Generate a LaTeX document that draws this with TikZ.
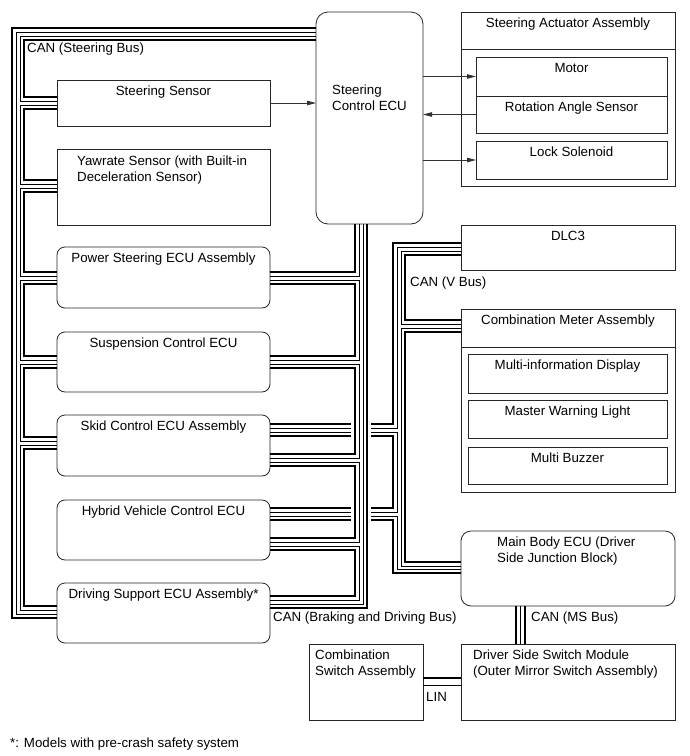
\documentclass[tikz,border=0pt]{standalone}
\usepackage{fontspec}
\setmainfont{Liberation Sans}
\usetikzlibrary{arrows.meta}

\tikzset{
  box/.style={draw=black!85, line width=0.8pt, inner sep=0pt, outer sep=0pt, anchor=north west},
  ecubox/.style={box, rounded corners=8pt},
  hi/.style={line width=2.4pt},
  lo/.style={line width=0.9pt},
  sig/.style={draw=black!80, line width=0.8pt, -{Triangle[length=9pt,width=4.5pt]}},
  title/.style={inner sep=0pt, anchor=north},
  lefttext/.style={inner sep=0pt, anchor=north west, align=left},
  note/.style={inner sep=0pt, anchor=north west}
}

\begin{document}
\begin{tikzpicture}[x=1pt, y=-1pt, font=\fontsize{13.3}{16}\selectfont]
    \useasboundingbox (0,0) rectangle (690,756);

    % Left column
    \node[box, minimum width=213pt, minimum height=46pt] (ss) at (57,80) {};
    \node[box, minimum width=213pt, minimum height=76pt] (yaw) at (57,149) {};
    \node[ecubox, minimum width=213pt, minimum height=61pt] (ps) at (57,247) {};
    \node[ecubox, minimum width=213pt, minimum height=60pt] (susp) at (57,332) {};
    \node[ecubox, minimum width=213pt, minimum height=61pt] (skid) at (57,415) {};
    \node[ecubox, minimum width=213pt, minimum height=60pt] (hv) at (57,500) {};
    \node[ecubox, minimum width=213pt, minimum height=60pt] (ds) at (57,583) {};
    \node[title] (ss-t) at ([yshift=-6pt]ss.north) {Steering Sensor};
    \node[lefttext] (yaw-t) at ([xshift=20pt,yshift=-7pt]yaw.north west) {Yawrate Sensor (with Built-in\\Deceleration Sensor)};
    \node[title] (ps-t) at ([yshift=-6pt]ps.north) {Power Steering ECU Assembly};
    \node[title] (susp-t) at ([yshift=-6pt]susp.north) {Suspension Control ECU};
    \node[title] (skid-t) at ([yshift=-6pt]skid.north) {Skid Control ECU Assembly};
    \node[title] (hv-t) at ([yshift=-6pt]hv.north) {Hybrid Vehicle Control ECU};
    \node[title] (ds-t) at ([yshift=-6pt]ds.north) {Driving Support ECU Assembly*};

    % Steering control ECU and actuator
    \node[box, rounded corners=12pt, minimum width=107pt, minimum height=212pt] (ecu) at (316,12) {};
    \node[lefttext] (ecu-t) at ([xshift=16pt,yshift=-73pt]ecu.north west) {Steering\\Control ECU};
    \node[box, minimum width=214pt, minimum height=174pt] (act) at (461,12) {};
    \draw[black!85, line width=0.8pt] (act.west |- 0,49) -- (act.east |- 0,49);
    \node[title] (act-t) at ([yshift=-6pt]act.north) {Steering Actuator Assembly};
    \node[box, minimum width=191pt, minimum height=39pt] (motor) at (476,57) {};
    \node[box, minimum width=191pt, minimum height=37pt] (ras) at (476,96) {};
    \node[box, minimum width=191pt, minimum height=38pt] (lock) at (476,141) {};
    \node[title] (motor-t) at ([yshift=-6pt]motor.north) {Motor};
    \node[title] (ras-t) at ([yshift=-6pt]ras.north) {Rotation Angle Sensor};
    \node[title] (lock-t) at ([yshift=-6pt]lock.north) {Lock Solenoid};

    % Right column
    \node[box, minimum width=214pt, minimum height=45pt] (dlc) at (461,225) {};
    \node[title] (dlc-t) at ([yshift=-6pt]dlc.north) {DLC3};
    \node[box, minimum width=214pt, minimum height=183pt] (meter) at (461,309) {};
    \draw[black!85, line width=0.8pt] (meter.west |- 0,347) -- (meter.east |- 0,347);
    \node[title] (meter-t) at ([yshift=-6pt]meter.north) {Combination Meter Assembly};
    \node[box, minimum width=199pt, minimum height=39pt] (mid) at (468,354) {};
    \node[box, minimum width=199pt, minimum height=38pt] (mwl) at (468,400) {};
    \node[box, minimum width=199pt, minimum height=37pt] (buz) at (468,447) {};
    \node[title] (mid-t) at ([yshift=-6pt]mid.north) {Multi-information Display};
    \node[title] (mwl-t) at ([yshift=-6pt]mwl.north) {Master Warning Light};
    \node[title] (buz-t) at ([yshift=-6pt]buz.north) {Multi Buzzer};
    \node[box, rounded corners=10pt, minimum width=214pt, minimum height=75pt] (mb) at (461,531) {};
    \node[lefttext] (mb-t) at ([xshift=36pt,yshift=-6pt]mb.north west) {Main Body ECU (Driver\\Side Junction Block)};
    \node[box, minimum width=214pt, minimum height=76pt] (dssm) at (461,644) {};
    \node[lefttext] (dssm-t) at ([xshift=12pt,yshift=-6pt]dssm.north west) {Driver Side Switch Module\\(Outer Mirror Switch Assembly)};
    \node[box, minimum width=114pt, minimum height=76pt] (css) at (309,644) {};
    \node[lefttext] (css-t) at ([xshift=6pt,yshift=-6pt]css.north west) {Combination\\Switch Assembly};

    % Signal lines
    \draw[sig] (ss.east) -- (ecu.west |- ss.east);
    \draw[sig] (ecu.east |- motor.west) -- (motor.west);
    \draw[sig] (ras.west) -- (ecu.east |- ras.west);
    \draw[sig] (ecu.east |- lock.west) -- (lock.west);

    % CAN (Steering Bus)
    \draw[hi] (ecu.west |- 0,28) -| (12,618) -- (ds.west |- 0,618);
    \draw[lo] (ecu.west |- 0,32) -| (16,614) -- (ds.west |- 0,614);
    \draw[lo] (ecu.west |- 0,36) -| (20,101) -- (ss.west |- 0,101);
    \draw[hi] (ecu.west |- 0,40) -| (24,97) -- (ss.west |- 0,97);
    \draw[lo] (ss.west |- 0,105) -| (20,184) -- (yaw.west |- 0,184);
    \draw[hi] (ss.west |- 0,109) -| (24,180) -- (yaw.west |- 0,180);
    \draw[lo] (yaw.west |- 0,188) -| (20,276) -- (ps.west |- 0,276);
    \draw[hi] (yaw.west |- 0,192) -| (24,272) -- (ps.west |- 0,272);
    \draw[lo] (ps.west |- 0,280) -| (20,360) -- (susp.west |- 0,360);
    \draw[hi] (ps.west |- 0,284) -| (24,356) -- (susp.west |- 0,356);
    \draw[lo] (susp.west |- 0,364) -| (20,441) -- (skid.west |- 0,441);
    \draw[hi] (susp.west |- 0,368) -| (24,437) -- (skid.west |- 0,437);
    \draw[lo] (skid.west |- 0,445) -| (20,610) -- (ds.west |- 0,610);
    \draw[hi] (skid.west |- 0,449) -| (24,606) -- (ds.west |- 0,606);

    % CAN (V Bus)
    \draw[hi] (dlc.west |- 0,243) -| (393,424) -- (skid.east |- 0,424);
    \draw[lo] (dlc.west |- 0,247) -| (397,428) -- (skid.east |- 0,428);
    \draw[lo] (skid.east |- 0,432) -| (397,512) -- (hv.east |- 0,512);
    \draw[hi] (skid.east |- 0,436) -| (393,508) -- (hv.east |- 0,508);
    \draw[lo] (hv.east |- 0,516) -| (397,569) -- (mb.west |- 0,569);
    \draw[hi] (hv.east |- 0,520) -| (393,573) -- (mb.west |- 0,573);
    \draw[lo] (dlc.west |- 0,251) -| (401,324) -- (meter.west |- 0,324);
    \draw[hi] (dlc.west |- 0,255) -| (405,320) -- (meter.west |- 0,320);
    \draw[lo] (meter.west |- 0,328) -| (401,566) -- (mb.west |- 0,566);
    \draw[hi] (meter.west |- 0,332) -| (405,562) -- (mb.west |- 0,562);
    % gaps where the V bus passes the other bus
    \fill[white] (351,421) rectangle (371,439);
    \fill[white] (351,505) rectangle (371,523);

    % CAN (Braking and Driving Bus)
    \draw[hi] (ecu.south -| 355,0) |- (ps.east |- 0,272);
    \draw[lo] (ecu.south -| 359,0) |- (ps.east |- 0,276);
    \draw[lo] (ps.east |- 0,280) -| (359,360) -- (susp.east |- 0,360);
    \draw[hi] (ps.east |- 0,284) -| (355,356) -- (susp.east |- 0,356);
    \draw[lo] (susp.east |- 0,364) -| (359,458) -- (skid.east |- 0,458);
    \draw[hi] (susp.east |- 0,368) -| (355,454) -- (skid.east |- 0,454);
    \draw[lo] (skid.east |- 0,462) -| (359,542) -- (hv.east |- 0,542);
    \draw[hi] (skid.east |- 0,466) -| (355,538) -- (hv.east |- 0,538);
    \draw[lo] (hv.east |- 0,546) -| (359,600) -- (ds.east |- 0,600);
    \draw[hi] (hv.east |- 0,550) -| (355,596) -- (ds.east |- 0,596);
    \draw[lo] (ecu.south -| 363,0) |- (ds.east |- 0,604);
    \draw[hi] (ecu.south -| 367,0) |- (ds.east |- 0,608);

    % CAN (MS Bus) and LIN
    \draw[hi] (mb.south -| 516,0) -- (dssm.north -| 516,0);
    \draw[lo] (mb.south -| 520.5,0) -- (dssm.north -| 520.5,0);
    \draw[hi] (mb.south -| 525,0) -- (dssm.north -| 525,0);
    \draw[hi] (css.east |- 0,678) -- (dssm.west |- 0,678);
    \draw[lo] (css.east |- 0,685) -- (dssm.west |- 0,685);

    % Bus names
    \node[note] (l-steer) at (27,43) {CAN (Steering Bus)};
    \node[note] (l-v) at (410,277) {CAN (V Bus)};
    \node[note] (l-bd) at (273,612) {CAN (Braking and Driving Bus)};
    \node[note] (l-ms) at (531,612) {CAN (MS Bus)};
    \node[note] (l-lin) at (426,692) {LIN};
    \node[note] (foot) at (10,738) {*: Models with pre-crash safety system};
\end{tikzpicture}
\end{document}
